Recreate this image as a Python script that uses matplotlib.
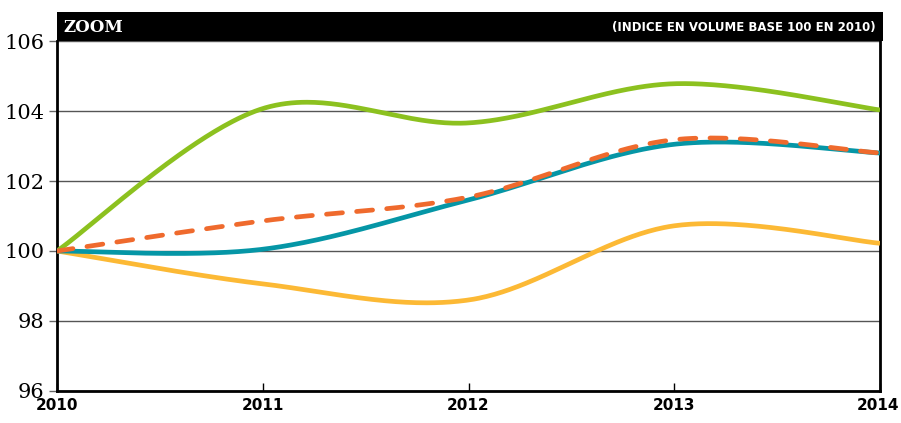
import numpy as np
import matplotlib.pyplot as plt
from matplotlib.patches import Rectangle
from matplotlib.transforms import ScaledTranslation

years = [2010, 2011, 2012, 2013, 2014]
green = [100, 104.07, 103.66, 104.78, 104.03]
blue = [100, 100.05, 101.46, 103.05, 102.8]
orange = [100, 100.86, 101.54, 103.18, 102.8]
yellow = [100, 99.06, 98.6, 100.72, 100.22]
title = "ZOOM"
subtitle = "(INDICE EN VOLUME BASE 100 EN 2010)"


# smooth line through the points (Catmull-Rom style bezier, like spreadsheet "smoothed lines")
def smooth(x, y, n=80):
    p = np.column_stack([x, y]).astype(float)
    ext = np.vstack([p[0], p, p[-1]])
    xs, ys = [], []
    t = np.linspace(0, 1, n)[:, None]
    for i in range(len(p) - 1):
        p0, p3 = p[i], p[i + 1]
        c1 = p0 + (ext[i + 2] - ext[i]) / 6
        c2 = p3 - (ext[i + 3] - ext[i + 1]) / 6
        b = (1 - t)**3 * p0 + 3 * (1 - t)**2 * t * c1 + 3 * (1 - t) * t**2 * c2 + t**3 * p3
        xs.append(b[:, 0])
        ys.append(b[:, 1])
    return np.concatenate(xs), np.concatenate(ys)


fig = plt.figure(figsize=(9.01, 4.23), dpi=100)
ax = fig.add_axes([0.0633, 0.0757, 0.9134, 0.8273])

for vals, col, dashed in [(yellow, '#fcb935', False), (green, '#8cc11f', False),
                          (blue, '#0596a6', False), (orange, '#ef6a2d', True)]:
    xs, ys = smooth(years, vals)
    if dashed:
        ax.plot(xs, ys, color=col, lw=3.4, ls=(0, (3.4, 3.0)), dash_capstyle='round', zorder=4)
    else:
        ax.plot(xs, ys, color=col, lw=3.4, solid_capstyle='butt', zorder=3)

ax.set_xlim(2010, 2014)
ax.set_ylim(96, 106)
ax.set_yticks([96, 98, 100, 102, 104, 106])
ax.set_xticks(years)
ax.grid(axis='y', color='#555555', lw=1)
ax.set_axisbelow(True)

ax.spines['top'].set_visible(False)
for s in ['left', 'right', 'bottom']:
    ax.spines[s].set_linewidth(2)
    ax.spines[s].set_color('black')

ax.tick_params(axis='y', direction='out', length=6, width=1, color='#666666',
               labelsize=15, pad=3)
ax.tick_params(axis='x', direction='in', length=6, width=1, color='black',
               labelsize=11, pad=5)
for lab in ax.get_yticklabels():
    lab.set_family('DejaVu Serif')
    lab.set_fontweight('light')
for lab in ax.get_xticklabels():
    lab.set_fontweight('bold')
# last year label sits against the right edge
last = ax.get_xticklabels()[-1]
last.set_horizontalalignment('right')
last.set_transform(last.get_transform() + ScaledTranslation(0.19, 0, fig.dpi_scale_trans))

# black header bar
ax.add_patch(Rectangle((0, 1), 1.004, 0.083, transform=ax.transAxes,
                       facecolor='black', edgecolor='none', clip_on=False))
ax.text(0.008, 1.04, title, transform=ax.transAxes, color='white',
        family='DejaVu Serif', fontweight='bold', fontsize=12, va='center')
ax.text(0.995, 1.04, subtitle, transform=ax.transAxes, color='white',
        fontweight='bold', fontsize=8.5, va='center', ha='right')

fig.savefig('out.png', dpi=100)
